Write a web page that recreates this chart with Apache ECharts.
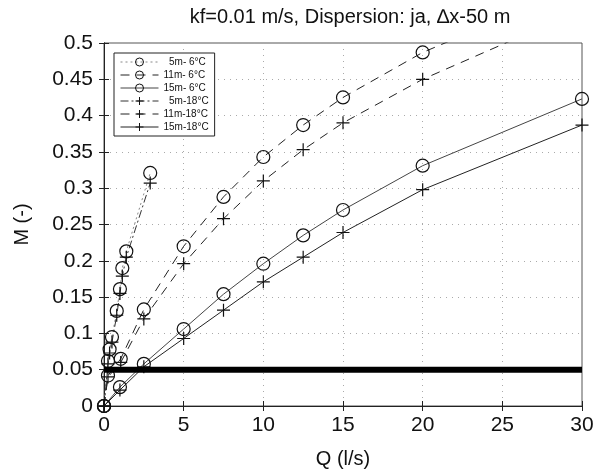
<!DOCTYPE html>
<html>
<head>
<meta charset="utf-8">
<script src="https://cdn.jsdelivr.net/npm/echarts@6/dist/echarts.min.js"></script>
<style>
  html, body { margin: 0; padding: 0; background: #fff; }
  #chart { width: 607px; height: 474px; }
</style>
</head>
<body>
<div id="chart"></div>
<script>
// Q (l/s) and M (-)
var q5 = [0, 0.25, 0.35, 0.5, 0.8, 1, 1.15, 1.4, 2.9];
var m5_6 = [0, 0.062, 0.078, 0.095, 0.131, 0.161, 0.19, 0.213, 0.321];
var m5_18 = [0, 0.058, 0.073, 0.088, 0.125, 0.155, 0.179, 0.205, 0.307];

var q11 = [0, 0.25, 1.05, 2.5, 5, 7.5, 10, 12.5, 15, 20, 30];
var m11_6 = [0, 0.042, 0.065, 0.133, 0.22, 0.288, 0.343, 0.387, 0.425, 0.487, 0.58];
var m11_18 = [0, 0.04, 0.06, 0.12, 0.196, 0.258, 0.31, 0.353, 0.39, 0.45, 0.546];

var q15 = [0, 1, 2.5, 5, 7.5, 10, 12.5, 15, 20, 30];
var m15_6 = [0, 0.026, 0.058, 0.106, 0.154, 0.196, 0.235, 0.27, 0.331, 0.423];
var m15_18 = [0, 0.022, 0.054, 0.093, 0.132, 0.171, 0.205, 0.239, 0.298, 0.387];

var limitQ = [0, 30];
var limitM = [0.05, 0.05];

var names = ['  5m- 6°C', '11m- 6°C', '15m- 6°C', '  5m-18°C', '11m-18°C', '15m-18°C'];

var FONT = 'Liberation Sans, Arial, sans-serif';
var PLUS = 'path://M5,0L5,10M0,5L10,5';

function pairs(xs, ys) {
  var out = [];
  for (var i = 0; i < xs.length; i++) out.push([xs[i], ys[i]]);
  return out;
}

function mkSeries(name, xs, ys, symbol, lineType, lineColor) {
  return {
    name: name,
    type: 'line',
    data: pairs(xs, ys),
    symbol: symbol,
    symbolSize: 13,
    showSymbol: true,
    clip: true,
    lineStyle: { color: lineColor, width: 1, type: lineType },
    itemStyle: { color: 'transparent', borderColor: '#111', borderWidth: 1.2 },
    emphasis: { disabled: true },
    z: 3
  };
}

var chart = echarts.init(document.getElementById('chart'));

var tickStyle = { show: true, inside: true, length: 5, lineStyle: { color: '#222' } };

var option = {
  animation: false,
  backgroundColor: '#fff',
  title: {
    text: 'kf=0.01 m/s, Dispersion: ja, \u2206x-50 m',
    left: 345,
    textAlign: 'center',
    top: 2,
    textStyle: { fontFamily: FONT, fontSize: 20, fontWeight: 'normal', color: '#111' }
  },
  legend: {
    data: names,
    orient: 'vertical',
    left: 114,
    top: 53,
    itemWidth: 38,
    itemHeight: 10,
    itemGap: 3,
    padding: [4, 6, 4, 6],
    backgroundColor: '#fff',
    borderColor: '#222',
    borderWidth: 1,
    borderRadius: 0,
    itemStyle: { borderWidth: 1 },
    lineStyle: { width: 1 },
    textStyle: { fontFamily: FONT, fontSize: 10, color: '#111' }
  },
  grid: {
    left: 104, right: 25, top: 43, bottom: 67,
    show: true, borderColor: '#555', borderWidth: 1
  },
  xAxis: [{
    type: 'value', min: 0, max: 30, interval: 5,
    name: 'Q (l/s)', nameLocation: 'middle', nameGap: 43,
    nameTextStyle: { fontFamily: FONT, fontSize: 20, color: '#111' },
    axisLine: { show: true, onZero: false, lineStyle: { color: '#222' } },
    axisTick: tickStyle,
    axisLabel: { fontFamily: FONT, fontSize: 21, color: '#111', margin: 9 },
    splitLine: { show: true, lineStyle: { color: '#aaa', type: [1, 5] } }
  }, {
    type: 'value', min: 0, max: 30, interval: 5, position: 'top',
    axisLine: { show: true, lineStyle: { color: '#222' } },
    axisTick: tickStyle, axisLabel: { show: false }, splitLine: { show: false }
  }],
  yAxis: [{
    type: 'value', min: 0, max: 0.5, interval: 0.05,
    name: 'M (-)', nameLocation: 'middle', nameGap: 72,
    nameTextStyle: { fontFamily: FONT, fontSize: 20, color: '#111' },
    axisLine: { show: true, onZero: false, lineStyle: { color: '#222' } },
    axisTick: tickStyle,
    axisLabel: { fontFamily: FONT, fontSize: 21, color: '#111', margin: 11 },
    splitLine: { show: true, lineStyle: { color: '#aaa', type: [1, 5] } }
  }, {
    type: 'value', min: 0, max: 0.5, interval: 0.05, position: 'right',
    axisLine: { show: true, lineStyle: { color: '#222' } },
    axisTick: tickStyle, axisLabel: { show: false }, splitLine: { show: false }
  }],
  series: [
    mkSeries(names[0], q5, m5_6, 'circle', [2, 3], '#888'),
    mkSeries(names[1], q11, m11_6, 'circle', [9, 7], '#222'),
    mkSeries(names[2], q15, m15_6, 'circle', 'solid', '#444'),
    mkSeries(names[3], q5, m5_18, PLUS, [8, 3, 2, 3], '#333'),
    mkSeries(names[4], q11, m11_18, PLUS, [9, 7], '#222'),
    mkSeries(names[5], q15, m15_18, PLUS, 'solid', '#222'),
    {
      name: 'limit',
      type: 'line',
      data: pairs(limitQ, limitM),
      symbol: 'none',
      lineStyle: { color: '#000', width: 6 },
      emphasis: { disabled: true },
      z: 4
    }
  ]
};

chart.setOption(option);
window.onresize = chart.resize;
</script>
</body>
</html>
